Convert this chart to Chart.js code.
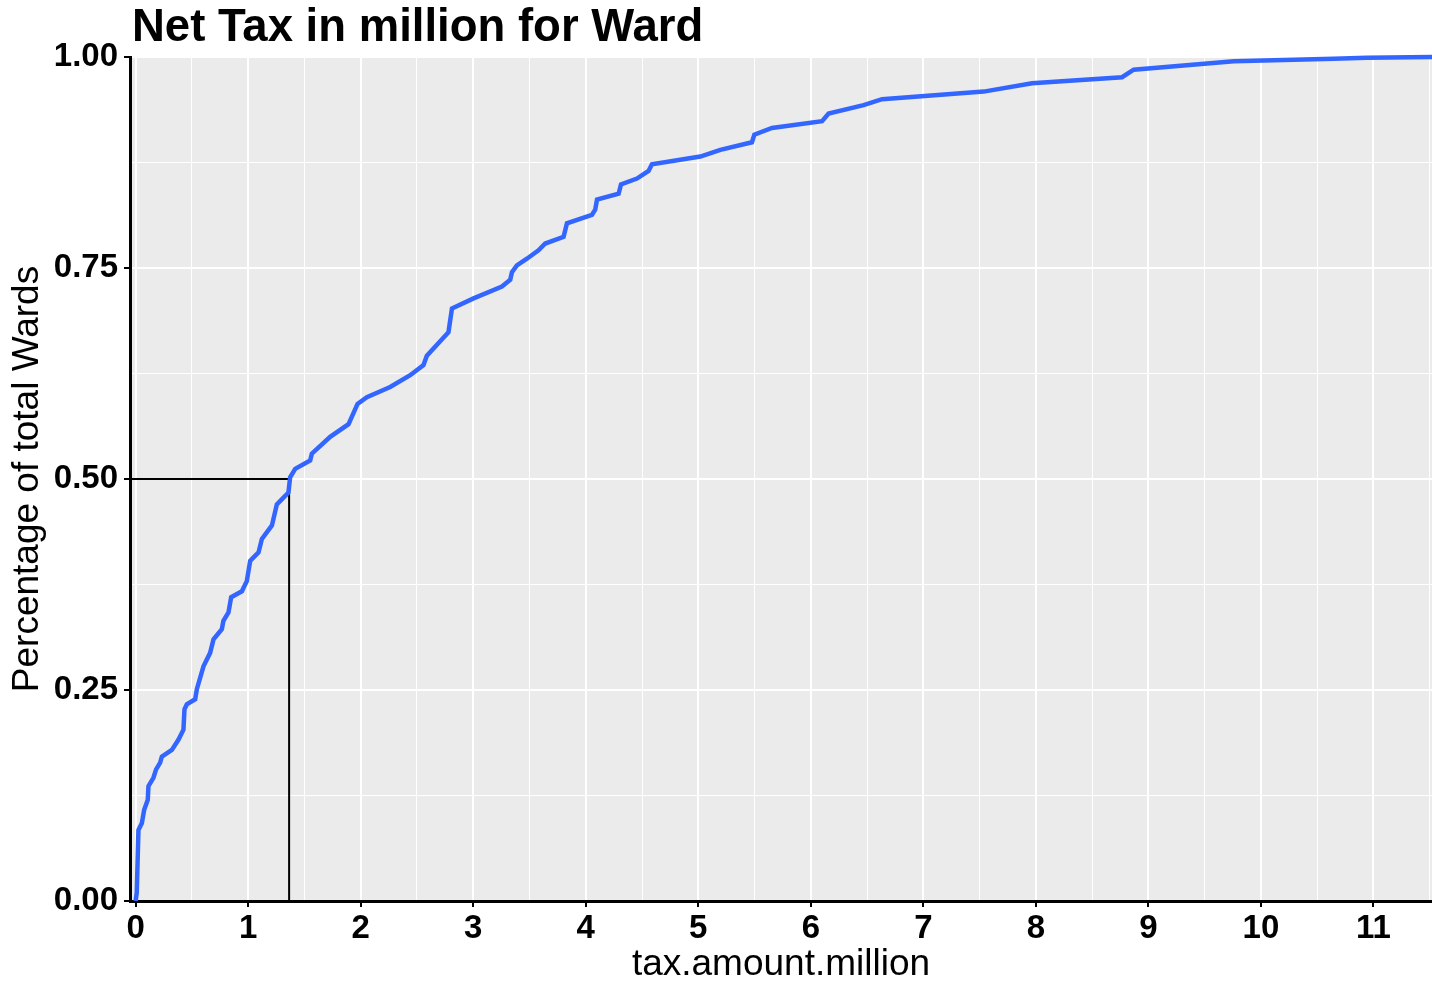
<!DOCTYPE html>
<html>
<head>
<meta charset="utf-8">
<title>Net Tax in million for Ward</title>
<script src="https://cdn.jsdelivr.net/npm/chart.js@4.4.1/dist/chart.umd.min.js"></script>
<style>
  html, body { margin: 0; padding: 0; background: #fff; }
</style>
</head>
<body>
<canvas id="chart" width="1432" height="981"></canvas>
<script>
// cumulative share of wards vs net tax (million)
const taxAmount = [0.00, 0.01, 0.025, 0.055, 0.076, 0.108, 0.114, 0.158, 0.182, 0.218,
  0.233, 0.322, 0.380, 0.425, 0.434, 0.455, 0.529, 0.544, 0.603, 0.662,
  0.692, 0.766, 0.780, 0.825, 0.849, 0.944, 0.988, 1.018, 1.092, 1.122,
  1.211, 1.255, 1.358, 1.373, 1.418, 1.551, 1.566, 1.729, 1.892, 1.972,
  2.055, 2.262, 2.440, 2.558, 2.588, 2.780, 2.811, 3.003, 3.255, 3.329,
  3.344, 3.388, 3.477, 3.580, 3.640, 3.803, 3.833, 4.055, 4.084, 4.100,
  4.292, 4.313, 4.455, 4.558, 4.588, 5.018, 5.196, 5.477, 5.498, 5.655,
  6.100, 6.158, 6.469, 6.633, 7.536, 7.966, 8.766, 8.869, 9.758, 10.647,
  10.94, 11.55];
const wardShare = [0.000, 0.010, 0.084, 0.092, 0.108, 0.120, 0.136, 0.146, 0.156, 0.164,
  0.171, 0.179, 0.191, 0.203, 0.227, 0.233, 0.239, 0.251, 0.278, 0.294,
  0.310, 0.322, 0.332, 0.342, 0.360, 0.367, 0.379, 0.403, 0.413, 0.429,
  0.445, 0.470, 0.484, 0.502, 0.512, 0.522, 0.530, 0.550, 0.565, 0.589,
  0.597, 0.609, 0.623, 0.635, 0.646, 0.674, 0.702, 0.714, 0.728, 0.736,
  0.745, 0.753, 0.761, 0.771, 0.779, 0.787, 0.803, 0.813, 0.819, 0.831,
  0.838, 0.849, 0.856, 0.865, 0.873, 0.882, 0.890, 0.899, 0.908, 0.916,
  0.924, 0.933, 0.943, 0.950, 0.959, 0.969, 0.976, 0.985, 0.995, 0.998,
  0.999, 1.000];

// median marker
const medianTax = 1.364;
const medianShare = 0.5;

const xTicks = [0, 1, 2, 3, 4, 5, 6, 7, 8, 9, 10, 11];
const yTicks = [0, 0.25, 0.5, 0.75, 1];
const xMin = -0.05, xMax = 11.52;

const FONT = "'Liberation Sans', Arial, Helvetica, sans-serif";

// major ticks plus the half-way minor grid lines
function withMinor(ticks) {
  const out = [];
  ticks.forEach((t, i) => {
    out.push(t);
    if (i < ticks.length - 1) out.push((t + ticks[i + 1]) / 2);
  });
  return out;
}
const xGrid = withMinor(xTicks).concat([11.5]);
const yGrid = withMinor(yTicks);

const panelBg = {
  id: 'panelBg',
  beforeDraw(chart) {
    const { ctx, chartArea: a } = chart;
    ctx.save();
    ctx.fillStyle = '#EBEBEB';
    ctx.fillRect(a.left, a.top, a.right - a.left, a.bottom - a.top);
    ctx.restore();
  }
};

const plotTitle = {
  id: 'plotTitle',
  afterDraw(chart) {
    const { ctx, chartArea: a } = chart;
    ctx.save();
    ctx.fillStyle = '#000';
    ctx.font = 'bold 45.5px ' + FONT;
    ctx.textBaseline = 'alphabetic';
    ctx.fillText('Net Tax in million for Ward', a.left + 2, 41);
    ctx.restore();
  }
};

const isMajorX = v => xTicks.some(t => Math.abs(t - v) < 1e-9);
const isMajorY = v => yTicks.some(t => Math.abs(t - v) < 1e-9);

const ctx = document.getElementById('chart').getContext('2d');
new Chart(ctx, {
  type: 'line',
  data: {
    datasets: [
      {
        data: taxAmount.map((x, i) => ({ x: x, y: wardShare[i] })),
        borderColor: '#3366FF',
        borderWidth: 4.5,
        pointRadius: 0,
        tension: 0,
        clip: false,
        order: 1
      },
      {
        data: [
          { x: xMin, y: medianShare },
          { x: medianTax, y: medianShare },
          { x: medianTax, y: 0 }
        ],
        borderColor: '#000',
        borderWidth: 2,
        pointRadius: 0,
        tension: 0,
        order: 2
      }
    ]
  },
  options: {
    responsive: false,
    animation: false,
    devicePixelRatio: 1,
    layout: { padding: { top: 57, right: 0, left: 0, bottom: 0 } },
    plugins: {
      legend: { display: false },
      tooltip: { enabled: false }
    },
    scales: {
      x: {
        type: 'linear',
        min: xMin,
        max: xMax,
        afterBuildTicks: s => { s.ticks = xGrid.map(v => ({ value: v })); },
        afterFit: s => { s.height = 80; },
        border: { color: '#000', width: 3 },
        grid: {
          color: '#FFFFFF',
          lineWidth: c => (isMajorX(c.tick.value) ? 2 : 1),
          tickColor: c => (isMajorX(c.tick.value) ? '#000' : 'rgba(0,0,0,0)'),
          tickLength: 6,
          tickWidth: 2
        },
        ticks: {
          autoSkip: false,
          maxRotation: 0,
          padding: 2,
          color: '#000',
          font: { family: FONT, size: 33, weight: 'bold' },
          callback: v => (isMajorX(v) ? String(v) : '')
        },
        title: {
          display: true,
          text: 'tax.amount.million',
          color: '#000',
          font: { family: FONT, size: 37, lineHeight: 0.85 },
          padding: 0
        }
      },
      y: {
        type: 'linear',
        min: 0,
        max: 1,
        afterBuildTicks: s => { s.ticks = yGrid.map(v => ({ value: v })); },
        afterFit: s => { s.width = 130; },
        border: { color: '#000', width: 3 },
        grid: {
          color: '#FFFFFF',
          lineWidth: c => (isMajorY(c.tick.value) ? 2 : 1),
          tickColor: c => (isMajorY(c.tick.value) ? '#000' : 'rgba(0,0,0,0)'),
          tickLength: 6,
          tickWidth: 2
        },
        ticks: {
          autoSkip: false,
          padding: 6,
          color: '#000',
          font: { family: FONT, size: 33, weight: 'bold' },
          callback: v => (isMajorY(v) ? v.toFixed(2) : '')
        },
        title: {
          display: true,
          text: 'Percentage of total Wards',
          color: '#000',
          font: { family: FONT, size: 37, lineHeight: 1 },
          padding: { top: 9, bottom: 0 }
        }
      }
    }
  },
  plugins: [panelBg, plotTitle]
});
</script>
</body>
</html>
